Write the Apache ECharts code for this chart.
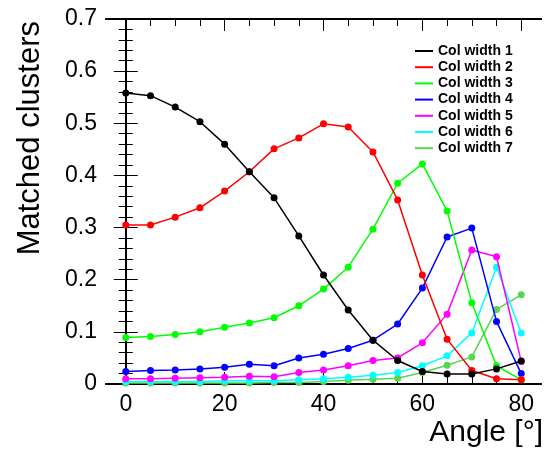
<!DOCTYPE html>
<html><head><meta charset="utf-8">
<script src="https://cdn.jsdelivr.net/npm/echarts@6/dist/echarts.min.js"></script>
<style>html,body{margin:0;padding:0;background:#fff}#c{width:545px;height:453px}</style>
</head><body><div id="c"></div>
<script>
const angles = [0,5,10,15,20,25,30,35,40,45,50,55,60,65,70,75,80];
const seriesNames = ['Col width 1','Col width 2','Col width 3','Col width 4','Col width 5','Col width 6','Col width 7'];
const colW1 = [0.558,0.553,0.531,0.503,0.460,0.407,0.357,0.284,0.209,0.142,0.084,0.045,0.024,0.019,0.019,0.029,0.044];
const colW2 = [0.305,0.305,0.320,0.338,0.370,0.407,0.451,0.472,0.499,0.493,0.445,0.353,0.209,0.086,0.026,0.010,0.008];
const colW3 = [0.089,0.091,0.095,0.100,0.109,0.117,0.127,0.150,0.182,0.224,0.297,0.385,0.422,0.332,0.156,0.035,0.008];
const colW4 = [0.024,0.026,0.027,0.029,0.032,0.038,0.035,0.050,0.057,0.068,0.084,0.115,0.184,0.282,0.299,0.120,0.020];
const colW5 = [0.010,0.010,0.011,0.012,0.013,0.015,0.014,0.022,0.027,0.035,0.045,0.050,0.079,0.134,0.257,0.244,0.043];
const colW6 = [0.005,0.005,0.005,0.005,0.006,0.006,0.006,0.008,0.010,0.013,0.017,0.022,0.035,0.054,0.098,0.224,0.098];
const colW7 = [0.002,0.002,0.002,0.002,0.002,0.002,0.003,0.003,0.005,0.007,0.009,0.011,0.022,0.036,0.052,0.143,0.171];
const allValues = [colW1,colW2,colW3,colW4,colW5,colW6,colW7];
const colors = ['#000000','#ff0000','#00ff00','#0000ff','#ff00ff','#00ffff','#59d454'];
const xMajor = [0,20,40,60,80];
const xMinor = [5,10,15,25,30,35,45,50,55,65,70,75];

const FONT = 'Liberation Sans, Helvetica, Arial, sans-serif';
const chart = echarts.init(document.getElementById('c'));
const axLine = {show:true, lineStyle:{color:'#000', width:2}};
function xAx(pos, labels, ticks, len){
  return {type:'value', min:-4, max:84, position:pos, axisLine:axLine,
    splitLine:{show:false},
    axisLabel:{show:labels, customValues:xMajor, fontSize:23, color:'#000', fontFamily:FONT, margin:9},
    axisTick:{show:true, inside:true, length:len, customValues:ticks, lineStyle:{color:'#000', width:1}}};
}
const option = {
  animation:false,
  backgroundColor:'#fff',
  grid:{left:106, right:4, top:19, bottom:69},
  legend:{orient:'vertical', left:410, top:39, icon:'rect', itemWidth:18, itemHeight:2, itemGap:2.2, itemTextGap:5,
    textStyle:{fontFamily:FONT, fontWeight:'bold', fontSize:14, color:'#000', lineHeight:14},
    data:seriesNames},
  xAxis:[xAx('bottom', true, xMajor, 12), xAx('bottom', false, xMinor, 7),
         xAx('top', false, xMajor, 12), xAx('top', false, xMinor, 7)],
  yAxis:[
    {type:'value', min:0, max:0.7, interval:0.1, position:'left', axisLine:axLine, splitLine:{show:false},
     axisLabel:{fontSize:23, color:'#000', fontFamily:FONT, margin:9, formatter:v=>v===0?'0':v.toFixed(1)},
     axisTick:{inside:true, length:12, lineStyle:{color:'#000'}},
     minorTick:{show:true, splitNumber:5, length:7, lineStyle:{color:'#000'}}},
    {type:'value', min:0, max:0.7, interval:0.1, position:'right', axisLine:axLine, splitLine:{show:false},
     axisLabel:{show:false},
     axisTick:{inside:true, length:12, lineStyle:{color:'#000'}},
     minorTick:{show:true, splitNumber:5, length:7, lineStyle:{color:'#000'}}}
  ],
  graphic:[
    {type:'text', x:30, y:21, rotation:Math.PI/2,
     style:{text:'Matched clusters', font:'31px '+FONT, fill:'#000', align:'right', verticalAlign:'middle'}},
    {type:'text', x:543, y:433,
     style:{text:'Angle [°]', font:'30px '+FONT, fill:'#000', align:'right', verticalAlign:'middle'}}
  ],
  series: allValues.map((vals,i)=>({
    name:seriesNames[i], type:'line', xAxisIndex:0, yAxisIndex:0,
    data:angles.map((a,j)=>[a, vals[j]]),
    symbol:'circle', symbolSize:7, showSymbol:true,
    lineStyle:{color:colors[i], width:1.5}, itemStyle:{color:colors[i]}, z:10-i
  }))
};
chart.setOption(option);
</script></body></html>
